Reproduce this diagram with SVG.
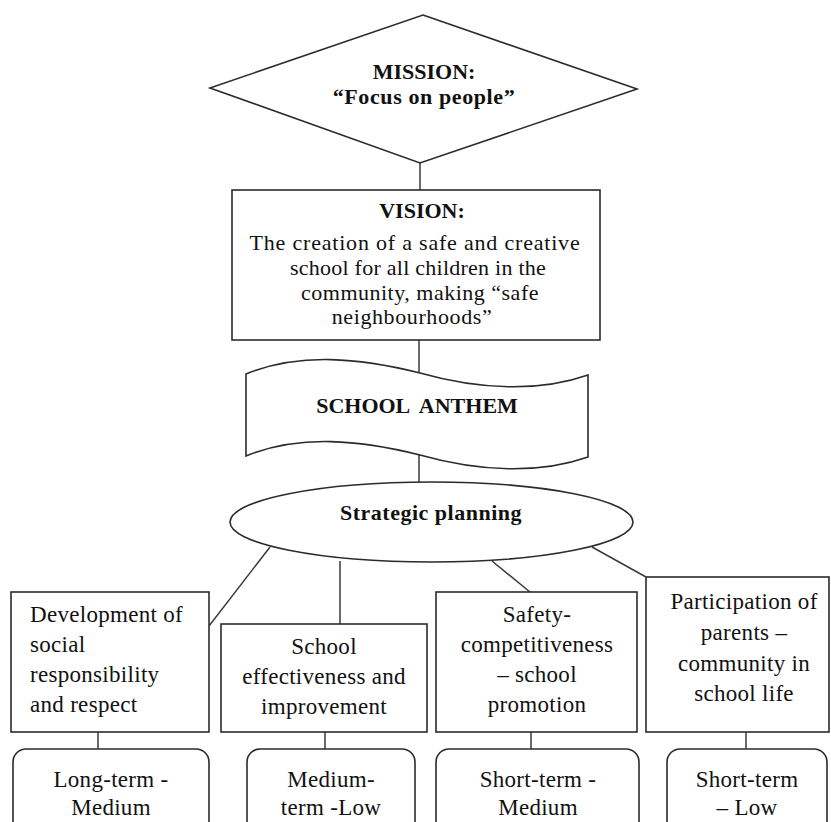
<svg xmlns="http://www.w3.org/2000/svg" width="831" height="822" viewBox="0 0 831 822">
  <style>
    .shape { fill: #ffffff; stroke: #2b2b2b; stroke-width: 1.6; }
    .link { fill: none; stroke: #3a3a3a; stroke-width: 1.5; }
    text { font-family: 'Liberation Serif', 'Times New Roman', 'DejaVu Serif', serif; fill: #111; }
    .b { font-weight: bold; font-size: 22px; text-anchor: middle; }
    .v { font-size: 22px; text-anchor: middle; }
    .s { font-size: 23px; letter-spacing: 0.3px; }
    .c { text-anchor: middle; }
  </style>
  <rect width="831" height="822" fill="#ffffff"/>

  <!-- connectors -->
  <g id="connectors">
    <line class="link" x1="420" y1="163" x2="420" y2="190"/>
    <line class="link" x1="419" y1="340" x2="419" y2="373"/>
    <line class="link" x1="419" y1="454" x2="419" y2="482"/>
    <line class="link" x1="270" y1="547" x2="209" y2="626"/>
    <line class="link" x1="340" y1="561" x2="340" y2="624"/>
    <line class="link" x1="492" y1="561" x2="530" y2="592"/>
    <line class="link" x1="592" y1="547" x2="646" y2="577"/>
    <line class="link" x1="98" y1="732" x2="98" y2="749"/>
    <line class="link" x1="325" y1="732" x2="325" y2="749"/>
    <line class="link" x1="531" y1="732" x2="531" y2="749"/>
    <line class="link" x1="746" y1="732" x2="746" y2="749"/>
  </g>

  <!-- mission diamond -->
  <g id="mission">
    <polygon class="shape" points="423,15 637,89 420,163 210,88"/>
    <text class="b" x="424" y="79">MISSION:</text>
    <text class="b" x="424" y="104" letter-spacing="0.6">“Focus on people”</text>
  </g>

  <!-- vision box -->
  <g id="vision">
    <rect class="shape" x="232" y="190" width="368" height="150"/>
    <text class="b" x="422" y="218">VISION:</text>
    <text class="v" x="415" y="250" letter-spacing="0.8">The creation of a safe and creative</text>
    <text class="v" x="418" y="275" letter-spacing="0.25">school for all children in the</text>
    <text class="v" x="420" y="300" letter-spacing="0.5">community, making “safe</text>
    <text class="v" x="412" y="324" letter-spacing="0.6">neighbourhoods”</text>
  </g>

  <!-- school anthem banner -->
  <g id="anthem">
    <path class="shape" d="M246,374 C300,352 360,358 420,373 C480,390 540,392 588,375 L588,457 C540,474 480,472 420,455 C360,440 300,434 246,456 Z"/>
    <text class="b" x="417" y="413" xml:space="preserve">SCHOOL  ANTHEM</text>
  </g>

  <!-- strategic planning ellipse -->
  <g id="strategic">
    <ellipse class="shape" cx="431.5" cy="522" rx="201.5" ry="40"/>
    <text class="b" x="431" y="520" letter-spacing="0.5">Strategic planning</text>
  </g>

  <!-- goal boxes -->
  <g id="goal-social">
    <rect class="shape" x="11" y="592" width="198" height="140"/>
    <text class="s" x="30" y="622">Development of</text>
    <text class="s" x="30" y="652">social</text>
    <text class="s" x="30" y="682">responsibility</text>
    <text class="s" x="30" y="712">and respect</text>
  </g>
  <g id="goal-effectiveness">
    <rect class="shape" x="221" y="624" width="206" height="108"/>
    <text class="s c" x="324" y="654">School</text>
    <text class="s c" x="324" y="684" letter-spacing="0.6">effectiveness and</text>
    <text class="s c" x="324" y="714">improvement</text>
  </g>
  <g id="goal-safety">
    <rect class="shape" x="436" y="592" width="201" height="140"/>
    <text class="s c" x="537" y="622">Safety-</text>
    <text class="s c" x="537" y="652">competitiveness</text>
    <text class="s c" x="537" y="682">– school</text>
    <text class="s c" x="537" y="712">promotion</text>
  </g>
  <g id="goal-participation">
    <rect class="shape" x="646" y="577" width="183" height="155"/>
    <text class="s c" x="744" y="609">Participation of</text>
    <text class="s c" x="744" y="640">parents –</text>
    <text class="s c" x="744" y="671">community in</text>
    <text class="s c" x="744" y="701">school life</text>
  </g>

  <!-- time frame / priority boxes -->
  <g id="term-social">
    <rect class="shape" x="13" y="749" width="196" height="100" rx="13"/>
    <text class="s c" x="111" y="787">Long-term -</text>
    <text class="s c" x="111" y="815">Medium</text>
  </g>
  <g id="term-effectiveness">
    <rect class="shape" x="247" y="749" width="168" height="100" rx="13"/>
    <text class="s c" x="331" y="787">Medium-</text>
    <text class="s c" x="331" y="815">term -Low</text>
  </g>
  <g id="term-safety">
    <rect class="shape" x="436" y="749" width="203" height="100" rx="13"/>
    <text class="s c" x="538" y="787">Short-term -</text>
    <text class="s c" x="538" y="815">Medium</text>
  </g>
  <g id="term-participation">
    <rect class="shape" x="667" y="749" width="160" height="100" rx="13"/>
    <text class="s c" x="747" y="787">Short-term</text>
    <text class="s c" x="747" y="815">– Low</text>
  </g>
</svg>
